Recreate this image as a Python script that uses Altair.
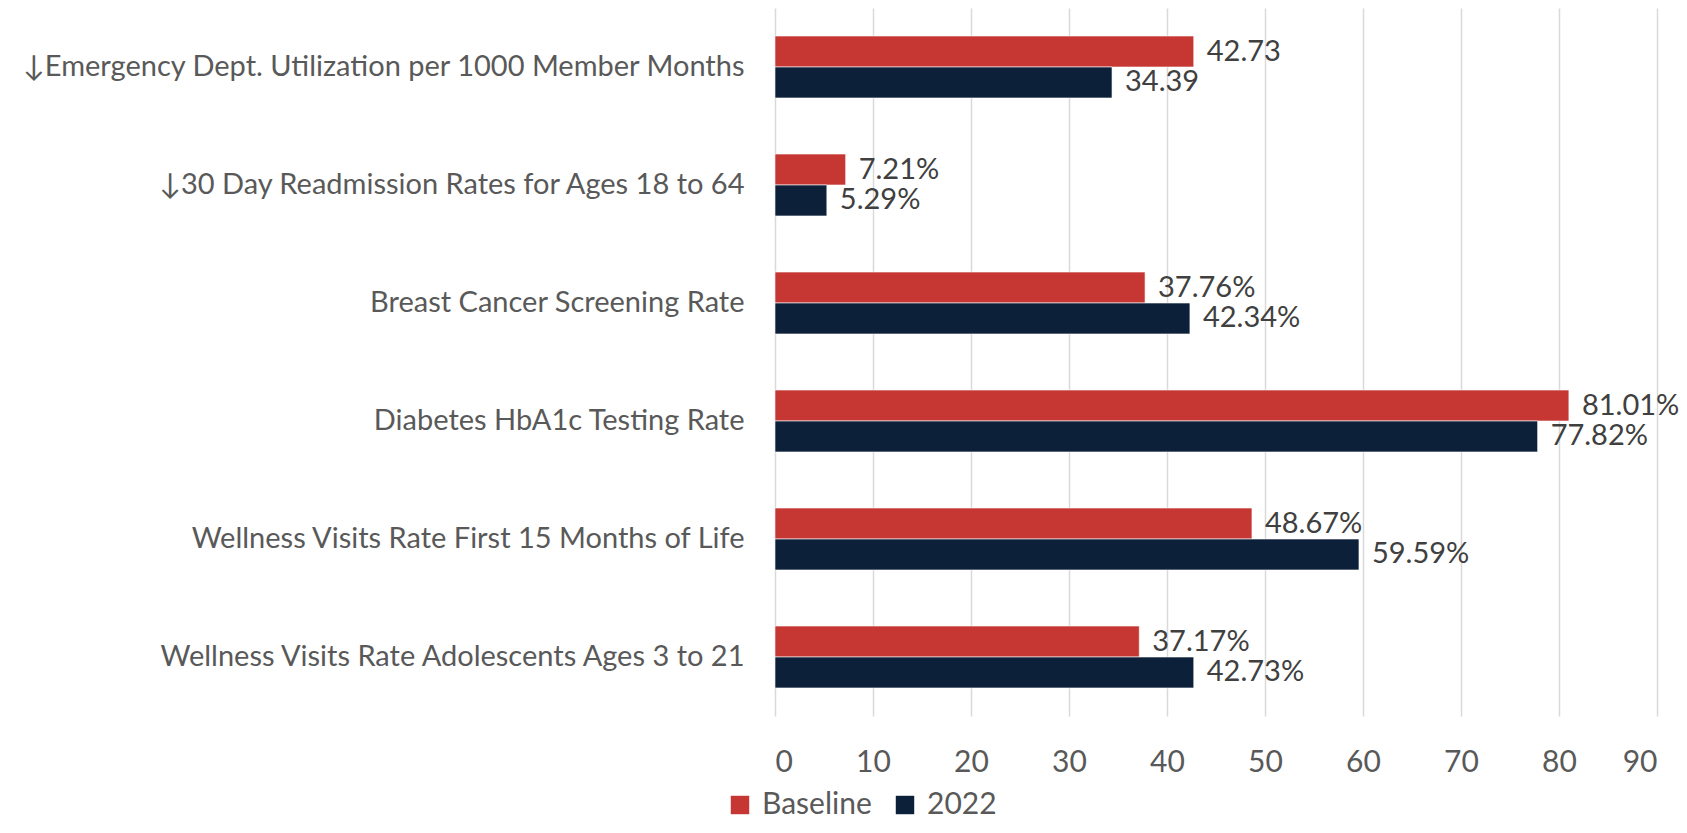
import altair as alt
import pandas as pd

categories = [
    "↓Emergency Dept. Utilization per 1000 Member Months",
    "↓30 Day Readmission Rates for Ages 18 to 64",
    "Breast Cancer Screening Rate",
    "Diabetes HbA1c Testing Rate",
    "Wellness Visits Rate First 15 Months of Life",
    "Wellness Visits Rate Adolescents Ages 3 to 21",
]
series = ["Baseline", "2022"]
baseline_values = [42.73, 7.21, 37.76, 81.01, 48.67, 37.17]
values_2022 = [34.39, 5.29, 42.34, 77.82, 59.59, 42.73]
baseline_labels = ["42.73", "7.21%", "37.76%", "81.01%", "48.67%", "37.17%"]
labels_2022 = ["34.39", "5.29%", "42.34%", "77.82%", "59.59%", "42.73%"]
x_ticks = [0, 10, 20, 30, 40, 50, 60, 70, 80, 90]
colors = ["#C63633", "#0C2039"]

rows = []
for i, c in enumerate(categories):
    rows.append({"category": c, "series": "Baseline", "value": baseline_values[i], "label": baseline_labels[i]})
    rows.append({"category": c, "series": "2022", "value": values_2022[i], "label": labels_2022[i]})
df = pd.DataFrame(rows)

FONT = "Lato"
FS = 30
FS_Y = 29
FS_DATA = 29

y_enc = alt.Y(
    "category:N",
    sort=categories,
    scale=alt.Scale(paddingInner=0.475, paddingOuter=0.2375),
    axis=alt.Axis(
        title=None, ticks=False, domain=False, labelPadding=31, labelFontSize=FS_Y,
        labelColor="#595959", labelFont=FONT, labelLimit=1000, grid=False,
    ),
)
yoff = alt.YOffset("series:N", sort=series, scale=alt.Scale(paddingInner=0, paddingOuter=0))
x_enc = alt.X(
    "value:Q",
    scale=alt.Scale(domain=[0, 90], nice=False),
    axis=alt.Axis(
        title=None, values=x_ticks, ticks=False, domain=False, labelPadding=31,
        labelFontSize=FS, labelColor="#595959", labelFont=FONT,
        grid=True, gridColor="#D9D9D9", gridWidth=1.5,
    ),
)

bars = alt.Chart(df).mark_bar(stroke="#FFFFFF", strokeWidth=0.6).encode(
    y=y_enc,
    yOffset=yoff,
    x=x_enc,
    color=alt.Color(
        "series:N",
        sort=series,
        scale=alt.Scale(domain=series, range=colors),
        legend=alt.Legend(
            title=None, orient="none", legendX=-50, legendY=782, direction="horizontal",
            symbolType="square", symbolSize=340, symbolStrokeWidth=0, labelFontSize=FS,
            labelFont=FONT, labelColor="#595959", labelOffset=7, columnPadding=18,
        ),
    ),
)

text = alt.Chart(df).mark_text(
    align="left", baseline="middle", dx=13, fontSize=FS_DATA, font=FONT, color="#404040"
).encode(
    y=alt.Y("category:N", sort=categories),
    yOffset=alt.YOffset("series:N", sort=series),
    x=alt.X("value:Q"),
    text="label:N",
)

chart = (
    alt.layer(bars, text)
    .properties(
        width=882,
        height=708,
        autosize=alt.AutoSizeParams(type="none"),
        padding={"left": 767, "top": 0, "right": 22, "bottom": 109},
        background="white",
    )
    .configure_view(stroke=None)
)

chart.save("out.html", embed_options={"renderer": "svg", "actions": False})
